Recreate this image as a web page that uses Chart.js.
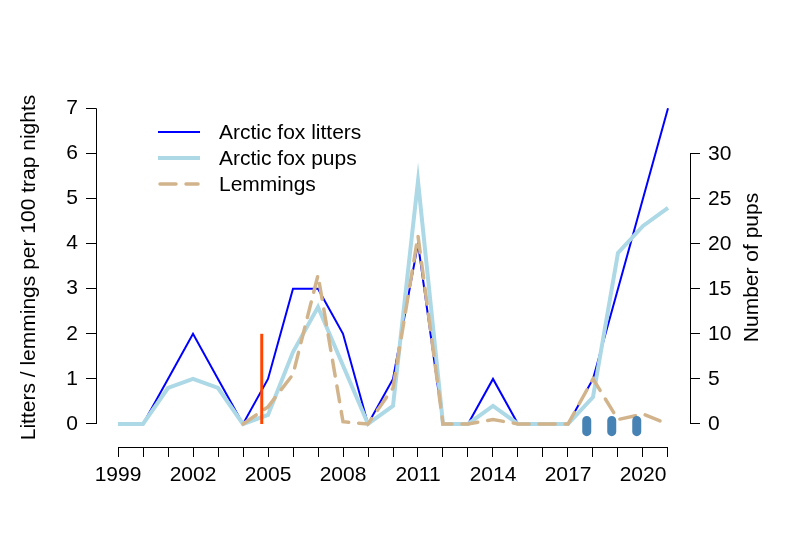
<!DOCTYPE html>
<html>
<head>
<meta charset="utf-8">
<script src="https://cdn.jsdelivr.net/npm/chart.js@4"></script>
<style>
html,body{margin:0;padding:0;background:#fff;}
canvas{display:block;}
</style>
</head>
<body>
<canvas id="c" width="785" height="533"></canvas>
<script>
// ---- data ----
const years = [1999,2000,2001,2002,2003,2004,2005,2006,2007,2008,2009,2010,2011,2012,2013,2014,2015,2016,2017,2018,2019,2020,2021];
const litters = [0,0,1,2,1,0,1,3,3,2,0,1,4,0,0,1,0,0,0,1,3,5,7];
const pups = [0,0,4,5,4,0,1,8,13,6.5,0,2,27,0,0,2,0,0,0,3,19,22,24];
const lemmingYears = [2004,2005,2006,2007,2008,2009,2010,2011,2012,2013,2014,2015,2016,2017,2018,2019,2020,2021];
const lemmings = [0,0.38,1.1,3.3,0.05,0,0.8,4.17,0,0,0.1,0,0,0,1.0,0.1,0.22,0];
const redYear = 2004.75;
const redRange = [0, 2];
const markYears = [2017.75, 2018.75, 2019.75];
const markRange = [0.08, -0.17];
const xLabelYears = [1999,2002,2005,2008,2011,2014,2017,2020];
const leftTicks = [0,1,2,3,4,5,6,7];
const rightTicks = [0,5,10,15,20,25,30];
const seriesNames = ['Arctic fox litters','Arctic fox pups','Lemmings'];
const leftTitle = 'Litters / lemmings per 100 trap nights';
const rightTitle = 'Number of pups';

const FONT = "'Liberation Sans', Arial, sans-serif";
const FS = 21;

const datasets = [
  {label: seriesNames[0], data: years.map((v,i)=>({x:v,y:litters[i]})), yAxisID:'y',
   borderColor:'#0000FF', borderWidth:2, order:5},
  {label: seriesNames[1], data: years.map((v,i)=>({x:v,y:pups[i]})), yAxisID:'y2',
   borderColor:'#ADD8E6', borderWidth:4, order:4},
  {label: seriesNames[2], data: lemmingYears.map((v,i)=>({x:v,y:lemmings[i]})), yAxisID:'y',
   borderColor:'#D2B48C', borderWidth:3.5, borderDash:[16,10], borderCapStyle:'round', order:3},
  {label:'red', data: redRange.map(v=>({x:redYear,y:v})), yAxisID:'y',
   borderColor:'#FF4500', borderWidth:3, order:2},
];
markYears.forEach(yr=>{
  datasets.push({label:'mark', data: markRange.map(v=>({x:yr,y:v})), yAxisID:'y',
    borderColor:'#4682B4', borderWidth:9, borderCapStyle:'round', order:1});
});
datasets.forEach(d=>{ d.pointRadius=0; d.pointHoverRadius=0; d.tension=0; d.fill=false; d.clip=false; });

const tickFont = {family: FONT, size: FS};

const rPlugin = {
  id:'rStyle',
  afterDraw(chart){
    const {ctx, chartArea:a, scales} = chart;
    const x = scales.x, y = scales.y, y2 = scales.y2;
    ctx.save();
    ctx.strokeStyle = '#000'; ctx.lineWidth = 1; ctx.setLineDash([]);
    const al = Math.round(a.left)+0.5, ar = Math.round(a.right)+0.5, ab = Math.round(a.bottom)+0.5;
    ctx.beginPath();
    ctx.moveTo(al, y.getPixelForValue(leftTicks[0])); ctx.lineTo(al, y.getPixelForValue(leftTicks[leftTicks.length-1]));
    ctx.moveTo(ar, y2.getPixelForValue(rightTicks[0])); ctx.lineTo(ar, y2.getPixelForValue(rightTicks[rightTicks.length-1]));
    ctx.moveTo(x.getPixelForValue(years[0]), ab); ctx.lineTo(x.getPixelForValue(years[years.length-1]), ab);
    ctx.stroke();
    // right title
    ctx.fillStyle = '#000';
    ctx.font = FS + 'px ' + FONT;
    ctx.textAlign = 'center'; ctx.textBaseline = 'middle';
    ctx.save();
    ctx.translate(752, (a.top + a.bottom)/2);
    ctx.rotate(-Math.PI/2);
    ctx.fillText(rightTitle, 0, 0);
    ctx.restore();
    // legend
    const rows = [132, 158, 184];
    for (let i=0;i<3;i++){
      const ds = chart.data.datasets[i];
      ctx.save();
      ctx.strokeStyle = ds.borderColor; ctx.lineWidth = ds.borderWidth;
      ctx.setLineDash(ds.borderDash || []);
      ctx.lineCap = ds.borderDash ? 'round' : 'butt';
      const x0 = ds.borderDash ? 160 : 158, x1 = ds.borderDash ? 198 : 200;
      ctx.beginPath(); ctx.moveTo(x0, rows[i]); ctx.lineTo(x1, rows[i]); ctx.stroke();
      ctx.restore();
      ctx.textAlign = 'left'; ctx.textBaseline = 'middle';
      ctx.fillText(ds.label, 219, rows[i]+1);
    }
    ctx.restore();
  }
};

new Chart(document.getElementById('c'), {
  type:'line',
  data:{datasets},
  plugins:[rPlugin],
  options:{
    responsive:false, animation:false, devicePixelRatio:1,
    layout:{padding:{top:88,left:0,right:0,bottom:0}},
    plugins:{legend:{display:false}, tooltip:{enabled:false}},
    scales:{
      x:{type:'linear', position:'bottom', min:1998.12, max:2021.88,
        afterBuildTicks(s){ s.ticks = years.map(v=>({value:v})); },
        afterFit(s){ s.height = 86; },
        grid:{display:true, drawOnChartArea:false, drawTicks:true, tickLength:10, color:'#000', tickColor:'#000', lineWidth:1},
        border:{display:false},
        ticks:{autoSkip:false, maxRotation:0, minRotation:0, padding:6, color:'#000', font:tickFont,
          callback(v){ return xLabelYears.includes(v) ? String(v) : ''; }}
      },
      y:{type:'linear', position:'left', min:-0.51, max:7.45,
        afterBuildTicks(s){ s.ticks = leftTicks.map(v=>({value:v})); },
        afterFit(s){ s.width = 96; },
        grid:{display:true, drawOnChartArea:false, drawTicks:true, tickLength:10, color:'#000', tickColor:'#000', lineWidth:1},
        border:{display:false},
        ticks:{padding:8, color:'#000', font:tickFont, callback(v){ return String(v); }},
        title:{display:true, text:leftTitle, color:'#000', font:{family:FONT, size:FS}, padding:{top:17, bottom:0}}
      },
      y2:{type:'linear', position:'right', min:-2.556, max:37.33,
        afterBuildTicks(s){ s.ticks = rightTicks.map(v=>({value:v})); },
        afterFit(s){ s.width = 95; },
        grid:{display:true, drawOnChartArea:false, drawTicks:true, tickLength:10, color:'#000', tickColor:'#000', lineWidth:1},
        border:{display:false},
        ticks:{padding:8, color:'#000', font:tickFont, callback(v){ return String(v); }}
      }
    }
  }
});
</script>
</body>
</html>
